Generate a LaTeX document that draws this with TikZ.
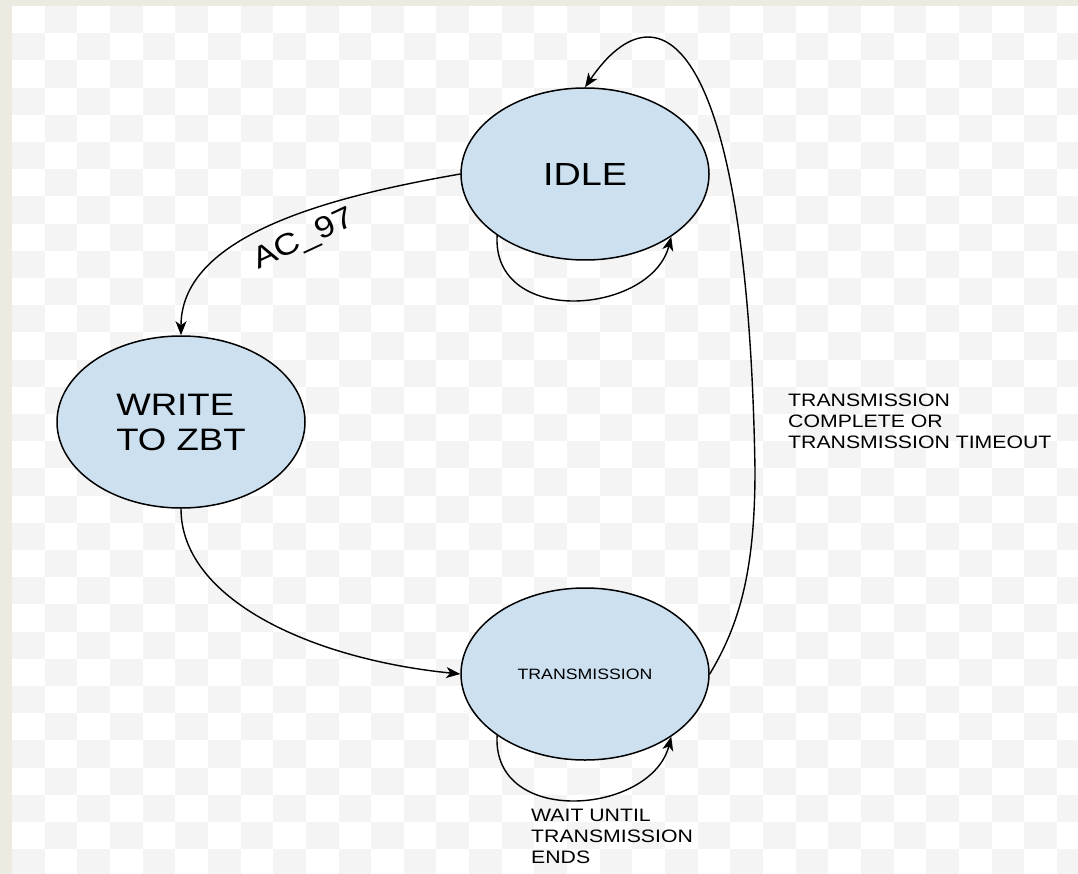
\documentclass[tikz,border=0pt]{standalone}
\usepackage{fontspec}
\setmainfont[FakeStretch=1.18]{Liberation Sans}
\usetikzlibrary{shapes.geometric,arrows.meta}

\definecolor{framebeige}{RGB}{237,234,226}
\definecolor{checkgray}{RGB}{244,244,244}
\definecolor{statefill}{RGB}{204,224,240}

\begin{document}
\begin{tikzpicture}[x=1pt, y=-1pt, >={Stealth[length=14pt,width=11pt,inset=4pt]}, line cap=round, line join=round,
		fsmstate/.style={ellipse, draw, fill=statefill, line width=1.5pt, minimum width=248pt, minimum height=172pt, inner sep=0pt},
		trans/.style={->, line width=1.4pt},
		lbl/.style={anchor=north west, align=left, inner sep=0pt, font=\fontsize{18}{20.8}\selectfont}]
		
		% --- Parameter (Raster im Hintergrund) ---
		\pgfmathsetmacro{\cw}{32.65} % Kachelbreite
		\pgfmathsetmacro{\ch}{27.2}  % Kachelhoehe
		
		% --- Rahmen + Schachbrett ---
		\useasboundingbox (0,0) rectangle (1078,874);
		\fill[framebeige] (0,0) rectangle (1078,874);
		\fill[white] (12,6) rectangle (1078,874);
		\begin{scope}
			\clip (12,6) rectangle (1078,874);
			\foreach \i in {0,...,32}{
				\foreach \j in {0,...,31}{
					\ifodd\numexpr\i+\j\relax
						\fill[checkgray] ({12+\i*\cw},{6+\j*\ch}) rectangle +(\cw,\ch);
					\fi
				}
			}
		\end{scope}
		
		% --- Zustaende ---
		\node[fsmstate, font=\fontsize{32}{36}\selectfont] (idle) at (585,174) {IDLE};
		\node[fsmstate, align=left, font=\fontsize{31}{35}\selectfont] (write) at (181,422) {WRITE\\TO ZBT};
		\node[fsmstate, font=\fontsize{15}{18}\selectfont] (trans) at (585,674) {TRANSMISSION};
		
		% --- Uebergaenge ---
		\draw[trans] (idle.west) .. controls +(-120,21) and +(0,-103) .. (write.north);
		\draw[trans] (write.south) .. controls +(0,90) and +(-150,-15) .. (trans.west);
		\draw[trans] (trans.east) .. controls +(30,-50) and +(0,100) .. (755,470)
			.. controls (748,40) and (660,-22) .. (idle.north);
		
		% --- Schleifen ---
		\draw[trans] (idle.215) .. controls +(-5,92) and +(-20,78) .. (idle.324);
		\draw[trans] (trans.215) .. controls +(-5,92) and +(-20,78) .. (trans.324);
		
		% --- Beschriftungen ---
		\node[rotate=25, font=\fontsize{30}{34}\selectfont] (lac) at (304,240) {AC\_97};
		\node[lbl] (ldone) at (788,394) {TRANSMISSION\\COMPLETE OR\\TRANSMISSION TIMEOUT};
		\node[lbl] (lwait) at (531,809) {WAIT UNTIL\\TRANSMISSION\\ENDS};
		
	\end{tikzpicture}
\end{document}
